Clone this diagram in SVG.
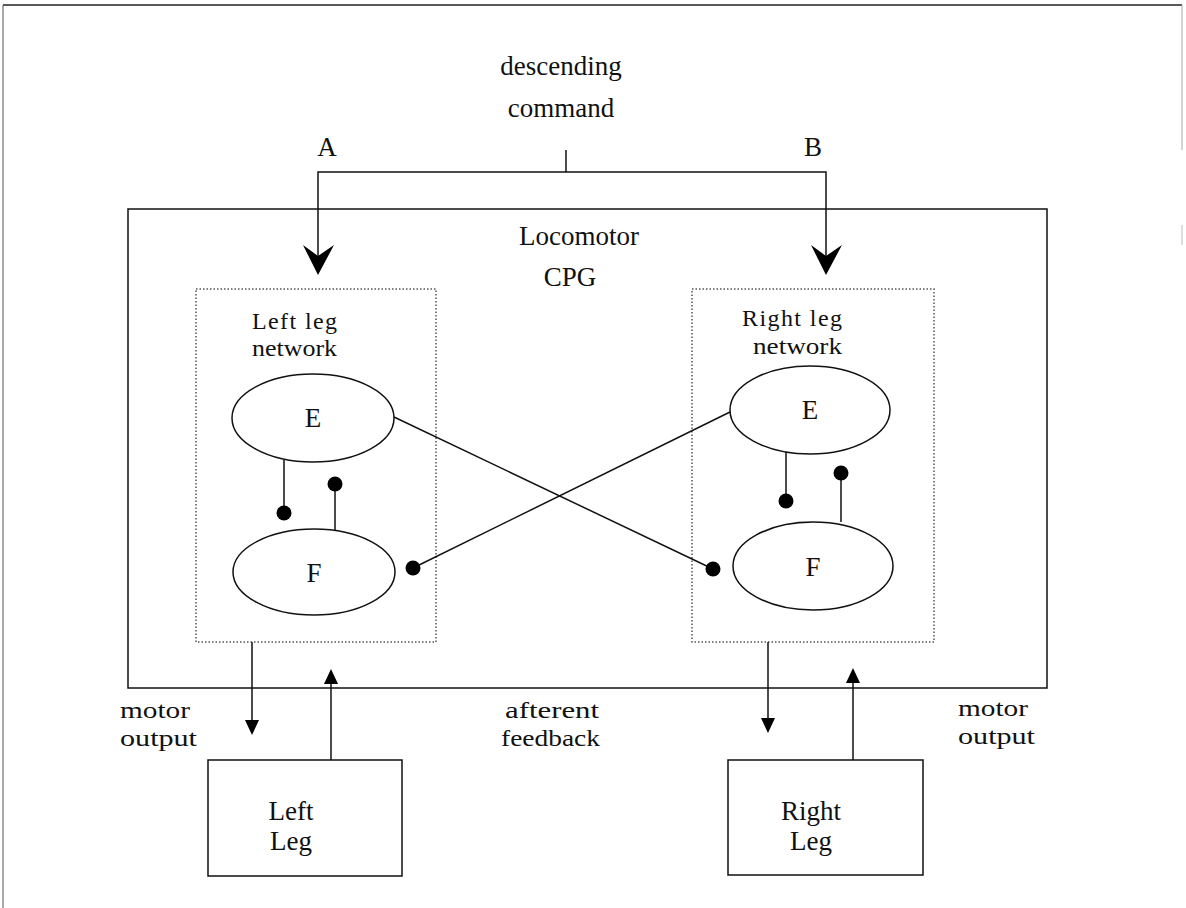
<svg xmlns="http://www.w3.org/2000/svg" width="1186" height="908" viewBox="0 0 1186 908">
<style>
  text { font-family: "Liberation Serif", "Times New Roman", serif; font-size: 27px; fill: #111; }
  .mid { text-anchor: middle; }
  .sm { font-size: 24px; }
  .ln { stroke: #111; stroke-width: 1.5; fill: none; }
  .box { stroke: #111; stroke-width: 1.5; fill: none; }
  .dot { stroke: #555; stroke-width: 1.5; stroke-dasharray: 1.5 2; fill: none; }
  .ell { stroke: #111; stroke-width: 1.5; fill: none; }
  .syn { fill: #000; }
  .head { fill: #000; }
</style>

<g id="frame">
  <line x1="3" y1="5" x2="1182" y2="5" stroke="#222" stroke-width="1.5"/>
  <line x1="3" y1="5" x2="3" y2="908" stroke="#555" stroke-width="1"/>
  <line x1="1182" y1="5" x2="1182" y2="150" stroke="#aaa" stroke-width="1"/>
  <line x1="1182" y1="225" x2="1182" y2="245" stroke="#bbb" stroke-width="1"/>
</g>

<g id="descending-command">
  <text class="mid" x="561" y="75">descending</text>
  <text class="mid" x="561" y="117">command</text>
</g>
<g id="label-A"><text class="mid" x="327" y="156">A</text></g>
<g id="label-B"><text class="mid" x="813" y="156">B</text></g>

<g id="locomotor-cpg">
  <rect class="box" x="128" y="209" width="919" height="479"/>
  <text class="mid" x="579" y="245">Locomotor</text>
  <text class="mid" x="570" y="286">CPG</text>
</g>

<g id="left-network">
  <rect class="dot" x="196" y="289" width="240" height="353"/>
  <text class="sm" x="252" y="329" textLength="85" lengthAdjust="spacing">Left  leg</text>
  <text class="sm" x="252" y="356" textLength="85" lengthAdjust="spacingAndGlyphs">network</text>
</g>
<g id="right-network">
  <rect class="dot" x="692" y="289" width="242" height="353"/>
  <text class="sm" x="742" y="326" textLength="100" lengthAdjust="spacing">Right  leg</text>
  <text class="sm" x="753" y="354" textLength="89" lengthAdjust="spacingAndGlyphs">network</text>
</g>

<g id="left-E">
  <ellipse class="ell" cx="313" cy="418" rx="81" ry="44"/>
  <text class="mid" x="313" y="427">E</text>
</g>
<g id="left-F">
  <ellipse class="ell" cx="314" cy="572" rx="81" ry="43"/>
  <text class="mid" x="314" y="582">F</text>
</g>
<g id="right-E">
  <ellipse class="ell" cx="810" cy="410" rx="80" ry="44"/>
  <text class="mid" x="810" y="419">E</text>
</g>
<g id="right-F">
  <ellipse class="ell" cx="813" cy="566" rx="80" ry="44"/>
  <text class="mid" x="813" y="576">F</text>
</g>

<g id="left-leg">
  <rect class="box" x="208" y="760" width="194" height="116"/>
  <text class="mid" x="291" y="820">Left</text>
  <text class="mid" x="291" y="850">Leg</text>
</g>
<g id="right-leg">
  <rect class="box" x="728" y="760" width="195" height="115"/>
  <text class="mid" x="811" y="820">Right</text>
  <text class="mid" x="811" y="850">Leg</text>
</g>

<g id="labels">
  <text class="sm" x="120" y="718" textLength="70" lengthAdjust="spacingAndGlyphs">motor</text>
  <text class="sm" x="120" y="746" textLength="77" lengthAdjust="spacingAndGlyphs">output</text>
  <text class="sm" x="958" y="716" textLength="70" lengthAdjust="spacingAndGlyphs">motor</text>
  <text class="sm" x="958" y="744" textLength="77" lengthAdjust="spacingAndGlyphs">output</text>
  <text class="sm" x="505" y="718" textLength="94" lengthAdjust="spacingAndGlyphs">afterent</text>
  <text class="sm" x="501" y="746" textLength="99" lengthAdjust="spacingAndGlyphs">feedback</text>
</g>

<g id="connectors">
  <line class="ln" x1="566" y1="150" x2="566" y2="172"/>
  <polyline class="ln" points="318,256 318,172 826,172 826,256"/>
  <path class="head" d="M318,275 L303,245 L318,256 L334,245 Z"/>
  <path class="head" d="M826,275 L811,245 L826,256 L842,245 Z"/>

  <line class="ln" x1="284" y1="460" x2="284" y2="513"/>
  <circle class="syn" cx="284" cy="513" r="7.5"/>
  <line class="ln" x1="335" y1="484" x2="335" y2="530"/>
  <circle class="syn" cx="335" cy="484" r="7.5"/>
  <line class="ln" x1="786" y1="452" x2="786" y2="501"/>
  <circle class="syn" cx="786" cy="501" r="7.5"/>
  <line class="ln" x1="841" y1="473" x2="841" y2="522"/>
  <circle class="syn" cx="841" cy="473" r="7.5"/>

  <line class="ln" x1="394" y1="417" x2="713" y2="569"/>
  <circle class="syn" cx="713" cy="569" r="7.5"/>
  <line class="ln" x1="730" y1="412" x2="413" y2="568"/>
  <circle class="syn" cx="413" cy="568" r="7.5"/>

  <line class="ln" x1="252" y1="642" x2="252" y2="722"/>
  <path class="head" d="M245,720 L259,720 L252,735 Z"/>
  <line class="ln" x1="331" y1="760" x2="331" y2="683"/>
  <path class="head" d="M324,684 L338,684 L331,669 Z"/>
  <line class="ln" x1="768" y1="642" x2="768" y2="720"/>
  <path class="head" d="M761,718 L775,718 L768,733 Z"/>
  <line class="ln" x1="853" y1="760" x2="853" y2="682"/>
  <path class="head" d="M846,683 L860,683 L853,668 Z"/>
</g>
</svg>
